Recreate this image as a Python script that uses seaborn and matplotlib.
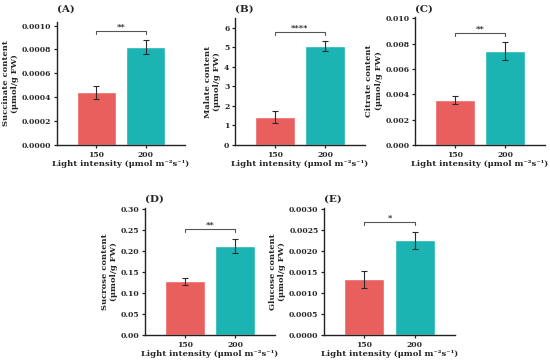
import numpy as np
import pandas as pd
import matplotlib
matplotlib.use("Agg")
import matplotlib.pyplot as plt
import seaborn as sns

# Input data
light = ["150", "200"]
panels = ["(A)", "(B)", "(C)", "(D)", "(E)"]
ylabels = ["Succinate content\n(μmol/g FW)", "Malate content\n(μmol/g FW)",
           "Citrate content\n(μmol/g FW)", "Sucrose content\n(μmol/g FW)",
           "Glucose content\n(μmol/g FW)"]
succinate = [0.00044, 0.00082]
succinate_err = [0.000055, 0.00006]
malate = [1.45, 5.07]
malate_err = [0.31, 0.27]
citrate = [0.00355, 0.0074]
citrate_err = [0.00035, 0.0007]
sucrose = [0.128, 0.211]
sucrose_err = [0.008, 0.017]
glucose = [0.00132, 0.00225]
glucose_err = [0.0002, 0.0002]
stars = ["**", "****", "**", "**", "*"]
bracket_y = [0.000952, 5.8, 0.00886, 0.252, 0.00268]
ylims = [0.00103, 6.5, 0.0101, 0.302, 0.00302]
yticks = [np.arange(0, 0.00101, 0.0002), np.arange(0, 7, 1), np.arange(0, 0.0101, 0.002),
          np.arange(0, 0.301, 0.05), np.arange(0, 0.00301, 0.0005)]
yfmt = ["{:.4f}", "{:.0f}", "{:.3f}", "{:.2f}", "{:.4f}"]

means = [succinate, malate, citrate, sucrose, glucose]
errs = [succinate_err, malate_err, citrate_err, sucrose_err, glucose_err]
colors = ["#E95F5E", "#1CB3B3"]

sns.set_style("ticks")
plt.rcParams["font.family"] = ["DejaVu Serif"]
plt.rcParams["font.weight"] = "bold"

W, H = 550, 362
fig = plt.figure(figsize=(5.5, 3.62), dpi=100)

# axes boxes in pixels: left, top, right, bottom
boxes = [(57, 22, 185, 145), (235, 18, 365, 145), (415, 17, 545, 145),
         (145, 208, 275, 335), (324, 208, 455, 335)]
title_y = [9, 9, 9, 199, 199]

for i in range(5):
    l, t, r, b = boxes[i]
    ax = fig.add_axes([l / W, 1 - b / H, (r - l) / W, (b - t) / H])
    df = pd.DataFrame({"light": light, "value": means[i]})
    sns.barplot(data=df, x="light", y="value", hue="light", palette=colors,
                saturation=1, width=0.8, legend=False, ax=ax, errorbar=None)
    ax.errorbar([0, 1], means[i], yerr=errs[i], fmt="none", ecolor="#2b2b2b",
                elinewidth=0.8, capsize=2.5, capthick=0.8)
    # significance bracket
    yb = bracket_y[i]
    tick = ylims[i] * 0.025
    ax.plot([0, 0, 1, 1], [yb - tick, yb, yb, yb - tick], color="#555555", lw=0.8)
    ax.text(0.5, yb + ylims[i] * 0.005, stars[i], ha="center", va="bottom",
            fontsize=6, fontweight="bold")
    ax.set_xlim(-0.8, 1.8)
    ax.set_ylim(0, ylims[i])
    ax.set_yticks(yticks[i])
    ax.set_yticklabels([yfmt[i].format(v) for v in yticks[i]])
    ax.set_xlabel("Light intensity (μmol m⁻²s⁻¹)", fontsize=6, fontweight="bold", labelpad=1)
    ax.set_ylabel(ylabels[i], fontsize=6, fontweight="bold", labelpad=2)
    ax.tick_params(labelsize=5.5, length=2.5, width=0.9, pad=1.5, color="#222222")
    for lab in ax.get_xticklabels() + ax.get_yticklabels():
        lab.set_fontweight("bold")
    for s in ["left", "bottom"]:
        ax.spines[s].set_linewidth(1.0)
        ax.spines[s].set_color("#222222")
    sns.despine(ax=ax)
    fig.text(l / W, 1 - title_y[i] / H, panels[i], ha="left", va="center",
             fontsize=7.5, fontweight="bold")

fig.savefig("out.png", dpi=100)
